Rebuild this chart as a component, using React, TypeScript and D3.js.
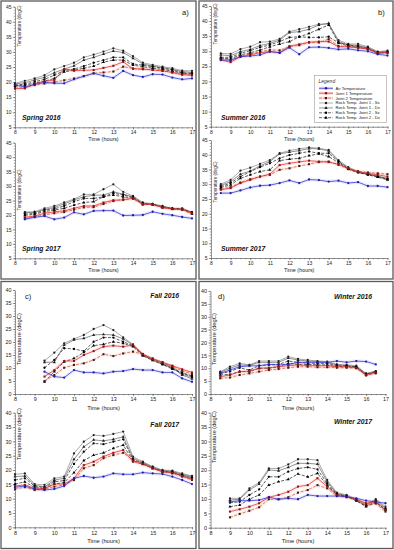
import React, { useEffect, useRef } from "react";
import * as d3 from "d3";

// hours of measurement for each campaign
const hours8to17 = [8, 8.5, 9, 9.5, 10, 10.5, 11, 11.5, 12, 12.5, 13, 13.5, 14, 14.5, 15, 15.5, 16, 16.5, 17];
const hours85to17 = [8.5, 9, 9.5, 10, 10.5, 11, 11.5, 12, 12.5, 13, 13.5, 14, 14.5, 15, 15.5, 16, 16.5, 17];
const hours95to17 = [9.5, 10, 10.5, 11, 11.5, 12, 12.5, 13, 13.5, 14, 14.5, 15, 15.5, 16, 16.5, 17];
const hours85to165 = [8.5, 9, 9.5, 10, 10.5, 11, 11.5, 12, 12.5, 13, 13.5, 14, 14.5, 15, 15.5, 16, 16.5];
const hours9to17 = [9, 9.5, 10, 10.5, 11, 11.5, 12, 12.5, 13, 13.5, 14, 14.5, 15, 15.5, 16, 16.5, 17];

const xTicks = [8, 9, 10, 11, 12, 13, 14, 15, 16, 17];
const yTicksTop = [5, 10, 15, 20, 25, 30, 35, 40, 45];
const yTicksBottom = [0, 5, 10, 15, 20, 25, 30, 35, 40];

const seriesNames = [
  "Air Temperature",
  "Joint 1 Temperature",
  "Joint 2 Temperature",
  "Rock Temp. Joint 1 - Sx",
  "Rock Temp. Joint 1 - Dx",
  "Rock Temp. Joint 2 - Sx",
  "Rock Temp. Joint 2 - Dx",
];

// Spring 2016
const sp16Air = [19.0, 18.4, 19.2, 19.9, 19.6, 19.6, 20.9, 21.9, 22.9, 22.1, 21.4, 23.7, 22.3, 21.7, 22.6, 22.5, 21.5, 20.9, 21.2];
const sp16J1 = [17.8, 17.9, 19.5, 20.2, 20.7, 24.3, 23.8, 23.9, 24.0, 24.7, 25.4, 26.7, 24.4, 24.3, 24.0, 23.7, 23.2, 22.4, 22.3];
const sp16J2 = [18.0, 18.2, 19.0, 19.5, 20.0, 20.6, 21.2, 22.0, 22.9, 23.2, 23.5, 25.1, 24.5, 24.3, 24.1, 23.8, 23.2, 22.7, 22.2];
const sp16R1Sx = [19.6, 20.4, 21.2, 22.3, 24.2, 25.3, 26.4, 28.2, 29.1, 30.1, 31.2, 30.4, 28.6, 26.4, 25.7, 25.1, 24.6, 23.8, 23.7];
const sp16R1Dx = [19.4, 19.8, 20.7, 21.6, 23.1, 24.3, 25.4, 27.3, 28.2, 29.3, 30.3, 29.8, 27.9, 26.0, 25.3, 24.8, 24.2, 23.5, 23.2];
const sp16R2Sx = [19.0, 19.3, 20.1, 20.9, 22.3, 23.8, 24.3, 25.3, 26.4, 27.3, 28.2, 28.2, 26.0, 25.6, 25.1, 24.6, 24.0, 23.1, 22.9];
const sp16R2Dx = [18.7, 19.0, 19.6, 20.3, 21.2, 23.4, 23.9, 24.6, 25.3, 26.6, 27.3, 27.3, 25.6, 25.1, 24.6, 24.2, 23.6, 23.0, 22.6];

// Spring 2017
const sp17Air = [18.5, 19.2, 19.6, 18.5, 19.1, 20.9, 20.2, 21.4, 21.5, 21.5, 19.8, 19.9, 20.0, 21.1, 20.4, 19.9, 19.3, 18.8];
const sp17J1 = [19.2, 19.6, 20.6, 21.1, 21.4, 22.3, 23.1, 23.1, 24.3, 25.1, 25.2, 25.8, 23.8, 23.7, 22.6, 22.1, 22.0, 20.6];
const sp17J2 = [18.8, 19.3, 20.0, 20.6, 21.0, 21.8, 22.6, 22.7, 23.8, 24.8, 25.4, 25.6, 23.6, 23.6, 22.5, 22.0, 21.8, 20.4];
const sp17R1Sx = [21.0, 21.1, 22.3, 23.1, 24.3, 25.5, 27.1, 27.1, 28.9, 30.6, 28.0, 26.6, 24.3, 23.8, 23.1, 22.3, 22.3, 21.0];
const sp17R1Dx = [20.8, 20.9, 21.9, 22.6, 23.8, 25.2, 26.3, 26.8, 26.9, 28.0, 27.2, 26.3, 24.0, 23.7, 22.9, 22.2, 22.1, 20.8];
const sp17R2Sx = [20.3, 20.5, 21.7, 22.1, 23.1, 24.6, 25.7, 25.7, 26.3, 27.5, 26.9, 26.1, 23.9, 23.7, 22.8, 22.2, 22.0, 20.9];
const sp17R2Dx = [19.9, 20.2, 21.2, 21.7, 22.3, 23.4, 24.3, 24.6, 26.3, 26.9, 26.3, 25.8, 23.7, 23.6, 22.6, 22.1, 21.9, 20.4];

// Summer 2016
const su16Air = [27.1, 27.1, 28.2, 28.4, 28.8, 29.9, 29.5, 31.2, 29.0, 31.3, 31.4, 31.1, 30.6, 30.8, 30.3, 30.0, 29.0, 28.6];
const su16J1 = [27.1, 26.4, 28.2, 28.8, 29.5, 29.9, 29.5, 31.7, 32.3, 33.0, 33.2, 33.2, 31.5, 31.5, 31.2, 30.7, 29.3, 29.6];
const su16J2 = [27.5, 26.8, 28.4, 29.1, 29.8, 30.5, 30.3, 31.5, 32.0, 32.9, 32.9, 34.0, 31.8, 31.5, 31.2, 30.9, 29.5, 29.5];
const su16R1Sx = [29.3, 29.1, 30.7, 31.5, 33.0, 33.2, 34.1, 36.5, 37.3, 38.1, 39.0, 39.0, 33.7, 32.4, 32.4, 31.5, 29.9, 30.2];
const su16R1Dx = [28.8, 28.5, 29.9, 30.6, 31.9, 32.6, 33.7, 36.2, 36.5, 37.3, 38.7, 39.3, 33.2, 32.1, 31.9, 31.2, 29.6, 29.9];
const su16R2Sx = [28.0, 28.0, 29.3, 30.2, 31.3, 32.1, 33.2, 34.6, 34.8, 34.6, 34.6, 34.8, 32.8, 32.1, 31.6, 31.0, 29.6, 29.8];
const su16R2Dx = [27.7, 27.5, 28.8, 29.5, 30.4, 31.5, 32.4, 33.2, 34.8, 35.9, 37.3, 38.7, 32.8, 31.7, 31.3, 30.8, 29.4, 29.6];

// Summer 2017
const su17Air = [27.0, 27.0, 27.9, 28.9, 29.5, 29.7, 30.4, 31.3, 30.4, 31.6, 31.4, 30.9, 31.2, 30.4, 30.7, 29.4, 29.4, 29.0];
const su17J1 = [28.1, 28.7, 30.4, 31.5, 32.6, 33.4, 36.5, 37.1, 37.6, 38.0, 37.7, 37.5, 36.8, 35.4, 34.3, 33.7, 33.2, 32.6];
const su17J2 = [28.4, 29.0, 30.6, 31.7, 32.6, 33.2, 34.9, 35.4, 36.2, 36.8, 37.5, 37.7, 36.6, 35.1, 34.3, 34.0, 33.7, 33.4];
const su17R1Sx = [30.0, 31.5, 34.6, 35.6, 36.9, 38.2, 40.5, 41.4, 42.0, 42.5, 42.2, 41.6, 38.2, 35.8, 34.3, 33.7, 32.8, 32.0];
const su17R1Dx = [29.6, 30.9, 33.4, 34.5, 36.2, 37.7, 40.3, 40.9, 41.4, 42.1, 42.0, 41.3, 37.9, 35.4, 34.1, 33.4, 32.6, 31.7];
const su17R2Sx = [29.2, 30.4, 32.6, 34.3, 35.8, 37.1, 38.8, 39.9, 40.5, 41.1, 40.5, 40.5, 37.7, 35.2, 34.0, 33.4, 32.6, 31.8];
const su17R2Dx = [28.9, 29.8, 32.0, 33.2, 34.3, 34.9, 38.0, 38.5, 38.8, 39.7, 40.3, 39.4, 37.3, 35.1, 34.0, 33.2, 32.4, 31.5];

// Fall 2016
const fa16Air = [8.6, 6.7, 6.3, 9.2, 8.3, 8.3, 7.9, 8.6, 8.8, 9.6, 9.2, 9.2, 8.3, 8.3, 6.0, 4.7];
const fa16J1 = [6.7, 9.2, 12.7, 12.7, 15.0, 16.5, 18.2, 18.6, 18.2, 18.8, 15.3, 13.5, 12.2, 10.9, 9.5, 8.3];
const fa16J2 = [5.0, 7.3, 10.1, 11.2, 11.8, 13.1, 15.3, 14.6, 15.6, 16.3, 15.2, 13.2, 11.9, 10.6, 8.9, 7.7];
const fa16R1Sx = [12.8, 15.9, 19.5, 21.2, 22.7, 25.0, 26.5, 24.6, 21.8, 19.1, 15.4, 13.7, 12.2, 10.5, 7.6, 6.4];
const fa16R1Dx = [12.2, 12.2, 18.8, 20.8, 21.4, 22.7, 22.9, 22.7, 21.2, 18.8, 15.0, 13.3, 11.8, 10.1, 7.3, 5.8];
const fa16R2Sx = [10.1, 13.1, 17.6, 17.3, 16.5, 20.1, 21.7, 21.7, 20.1, 18.6, 15.0, 13.1, 11.4, 9.9, 8.2, 7.0];
const fa16R2Dx = [4.7, 8.6, 12.4, 13.7, 16.0, 18.6, 19.1, 20.1, 19.5, 18.2, 14.7, 12.9, 11.4, 9.6, 7.9, 6.7];

// Fall 2017
const fa17Air = [14.0, 14.4, 13.3, 13.0, 13.4, 14.4, 17.1, 17.9, 17.3, 17.7, 18.8, 18.5, 18.5, 19.1, 18.8, 18.6, 17.7, 16.5, 15.1];
const fa17J1 = [14.4, 14.8, 13.6, 13.6, 15.1, 15.1, 17.1, 21.7, 22.9, 24.7, 26.0, 27.0, 22.9, 22.0, 20.6, 19.4, 19.1, 17.9, 16.7];
const fa17J2 = [13.3, 14.0, 13.0, 13.3, 14.2, 14.8, 16.5, 20.6, 21.7, 24.1, 25.2, 26.0, 23.5, 22.3, 20.6, 19.4, 18.8, 17.7, 16.5];
const fa17R1Sx = [18.5, 18.8, 15.1, 14.8, 17.1, 17.7, 25.8, 29.9, 32.2, 31.9, 32.6, 33.4, 24.7, 22.9, 21.2, 20.0, 19.8, 18.8, 17.9];
const fa17R1Dx = [17.7, 17.9, 14.7, 14.1, 16.5, 17.1, 23.7, 28.1, 30.5, 30.2, 30.7, 31.6, 24.1, 22.6, 21.0, 19.8, 19.5, 18.5, 17.7];
const fa17R2Sx = [16.5, 17.1, 14.4, 13.9, 15.9, 16.3, 22.1, 26.4, 29.3, 29.0, 29.9, 30.7, 23.7, 22.3, 20.8, 19.6, 19.3, 18.2, 17.3];
const fa17R2Dx = [15.1, 15.9, 13.9, 13.5, 15.1, 15.6, 19.1, 23.3, 25.2, 26.0, 27.6, 28.7, 23.3, 22.1, 20.6, 19.4, 19.1, 18.0, 17.1];

// Winter 2016
const wi16Air = [8.0, 9.3, 10.6, 10.9, 11.0, 11.5, 11.3, 11.5, 12.3, 12.3, 12.3, 12.3, 12.8, 12.3, 12.8, 12.6, 11.5];
const wi16J1 = [6.7, 7.4, 8.7, 8.9, 10.0, 10.2, 10.6, 11.0, 11.3, 11.0, 11.0, 11.0, 10.6, 10.6, 10.2, 7.4, 8.4];
const wi16J2 = [6.1, 6.4, 7.4, 8.0, 8.7, 9.3, 9.7, 10.2, 10.6, 10.6, 10.4, 10.4, 10.2, 10.2, 10.0, 7.2, 8.0];
const wi16R1Sx = [8.7, 10.6, 11.9, 11.3, 12.8, 12.8, 12.8, 14.5, 13.6, 13.2, 12.8, 12.6, 11.5, 11.3, 11.0, 8.0, 8.9];
const wi16R1Dx = [8.4, 10.0, 11.3, 11.1, 12.3, 12.3, 12.3, 13.9, 13.2, 12.8, 12.6, 12.3, 11.3, 11.1, 10.6, 7.8, 8.7];
const wi16R2Sx = [8.0, 8.7, 10.2, 9.3, 11.0, 11.3, 11.5, 12.8, 12.3, 12.0, 11.9, 11.9, 11.0, 10.9, 10.5, 7.6, 8.7];
const wi16R2Dx = [7.4, 7.6, 8.7, 8.7, 10.0, 10.0, 10.6, 11.9, 11.5, 11.5, 11.3, 11.3, 10.6, 10.6, 10.2, 7.4, 8.4];

// Winter 2017
const wi17Air = [9.0, 9.4, 9.4, 9.6, 10.6, 9.9, 10.2, 9.9, 11.4, 11.0, 11.0, 11.0, 10.8, 10.2, 9.4, 9.0, 8.5];
const wi17J1 = [5.6, 6.4, 7.3, 8.5, 10.6, 11.4, 12.5, 14.3, 14.8, 17.2, 14.3, 11.4, 10.8, 9.9, 8.5, 9.0, 6.1];
const wi17J2 = [3.6, 4.8, 5.9, 7.1, 9.9, 9.9, 10.6, 12.2, 13.1, 14.8, 13.7, 11.0, 10.6, 9.6, 7.8, 8.4, 5.6];
const wi17R1Sx = [10.2, 10.2, 13.7, 15.7, 20.6, 20.6, 22.0, 23.8, 23.8, 23.5, 16.6, 12.2, 11.4, 9.9, 8.2, 9.9, 7.3];
const wi17R1Dx = [9.6, 9.9, 13.1, 15.2, 20.1, 19.8, 21.0, 22.4, 22.4, 22.1, 16.0, 11.9, 11.0, 9.6, 7.9, 9.6, 6.8];
const wi17R2Sx = [8.7, 9.0, 11.4, 13.3, 17.7, 17.7, 19.5, 20.6, 21.0, 20.3, 15.4, 11.7, 11.0, 9.4, 7.5, 9.0, 6.4];
const wi17R2Dx = [7.3, 7.9, 9.9, 11.4, 14.8, 16.0, 16.8, 18.7, 17.7, 18.9, 14.8, 11.5, 10.8, 9.4, 7.3, 8.8, 6.1];

// line look for each series (same order as seriesNames)
const seriesStyle = [
  { stroke: "#2d2dcf", halo: "#c4c4f2", dash: null, marker: d3.symbolCircle, mfill: "#1c1cb0" },
  { stroke: "#e42a2a", halo: "#f7c4c4", dash: null, marker: d3.symbolSquare, mfill: "#8a1515" },
  { stroke: "#d2553f", halo: "#f7d2c8", dash: "3,1.5", marker: d3.symbolSquare, mfill: "#3a1a10" },
  { stroke: "#8c8c8c", halo: null, dash: null, marker: d3.symbolCircle, mfill: "#222" },
  { stroke: "#6c6c6c", halo: null, dash: null, marker: d3.symbolTriangle, mfill: "#222" },
  { stroke: "#2a2a2a", halo: null, dash: "3,1.5", marker: d3.symbolCircle, mfill: "#000" },
  { stroke: "#2a2a2a", halo: null, dash: "3,1.5", marker: d3.symbolTriangle, mfill: "#000" },
];
const drawOrder = [3, 4, 5, 6, 2, 1, 0];

const panels = [
  { title: "Spring 2016", hours: hours8to17, data: [sp16Air, sp16J1, sp16J2, sp16R1Sx, sp16R1Dx, sp16R2Sx, sp16R2Dx],
    x0: 15, x1: 192, yt: 6.7, yb: 127.3, dom: [5, 45], ticks: yTicksTop, fs: 5, yl: 26, ylfs: 4.6,
    tx: 22, ty: 120, anchor: "start", letter: "a)", lx: 182, ly: 15 },
  { title: "Spring 2017", hours: hours85to17, data: [sp17Air, sp17J1, sp17J2, sp17R1Sx, sp17R1Dx, sp17R2Sx, sp17R2Dx],
    x0: 15, x1: 192, yt: 142.7, yb: 258.3, dom: [5, 45], ticks: yTicksTop, fs: 5, yl: 190, ylfs: 4.6,
    tx: 22, ty: 250.5, anchor: "start" },
  { title: "Summer 2016", hours: hours85to17, data: [su16Air, su16J1, su16J2, su16R1Sx, su16R1Dx, su16R2Sx, su16R2Dx],
    x0: 211, x1: 387.5, yt: 6, yb: 126.7, dom: [5, 45], ticks: yTicksTop, fs: 5, yl: 24, ylfs: 4.6,
    tx: 221, ty: 120, anchor: "start", letter: "b)", lx: 378, ly: 15, legend: true },
  { title: "Summer 2017", hours: hours85to17, data: [su17Air, su17J1, su17J2, su17R1Sx, su17R1Dx, su17R2Sx, su17R2Dx],
    x0: 211, x1: 387.5, yt: 140, yb: 258, dom: [5, 45], ticks: yTicksTop, fs: 5, yl: 182, ylfs: 4.6,
    tx: 221, ty: 250.5, anchor: "start" },
  { title: "Fall 2016", hours: hours95to17, data: [fa16Air, fa16J1, fa16J2, fa16R1Sx, fa16R1Dx, fa16R2Sx, fa16R2Dx],
    x0: 15, x1: 192, yt: 290, yb: 394, dom: [0, 40], ticks: yTicksBottom, fs: 5.4, yl: 339, ylfs: 5.8,
    tx: 179, ty: 297.5, anchor: "end", letter: "c)", lx: 25, ly: 298.5 },
  { title: "Fall 2017", hours: hours8to17, data: [fa17Air, fa17J1, fa17J2, fa17R1Sx, fa17R1Dx, fa17R2Sx, fa17R2Dx],
    x0: 15, x1: 192, yt: 412.7, yb: 527.3, dom: [0, 40], ticks: yTicksBottom, fs: 5.4, yl: 434, ylfs: 5.8,
    tx: 179, ty: 426.5, anchor: "end" },
  { title: "Winter 2016", hours: hours85to165, data: [wi16Air, wi16J1, wi16J2, wi16R1Sx, wi16R1Dx, wi16R2Sx, wi16R2Dx],
    x0: 210.5, x1: 385.5, yt: 291, yb: 394, dom: [0, 40], ticks: yTicksBottom, fs: 5.4, yl: 339, ylfs: 5.8,
    tx: 372, ty: 299, anchor: "end", letter: "d)", lx: 218, ly: 299 },
  { title: "Winter 2017", hours: hours9to17, data: [wi17Air, wi17J1, wi17J2, wi17R1Sx, wi17R1Dx, wi17R2Sx, wi17R2Dx],
    x0: 210.5, x1: 385.5, yt: 412.7, yb: 527.7, dom: [0, 40], ticks: yTicksBottom, fs: 5.4, yl: 437, ylfs: 5.8,
    tx: 372, ty: 424, anchor: "end" },
];

const boxes = [
  [1, 1, 195, 278],
  [199, 1, 194, 278],
  [1, 281.5, 195, 267],
  [199, 281.5, 194, 267],
];

const FONT = "Arial, 'Liberation Sans', sans-serif";

export default function App() {
  const ref = useRef<SVGSVGElement>(null);

  useEffect(() => {
    const svg = d3.select(ref.current);
    svg.selectAll("*").remove();

    svg.append("rect").attr("width", 394).attr("height", 550).attr("fill", "white");

    // group frames
    svg.append("g").selectAll("rect").data(boxes).join("rect")
      .attr("x", (d) => d[0]).attr("y", (d) => d[1]).attr("width", (d) => d[2]).attr("height", (d) => d[3])
      .attr("fill", "none").attr("stroke", "#5a5a5a").attr("stroke-width", 1.3);

    panels.forEach((p) => {
      const g = svg.append("g").style("font-family", FONT);
      const x = d3.scaleLinear().domain([8, 17]).range([p.x0, p.x1]);
      const y = d3.scaleLinear().domain(p.dom).range([p.yb, p.yt]);

      // minor ticks
      g.append("g").attr("transform", `translate(0,${p.yb})`)
        .call(d3.axisBottom(x).tickValues(d3.range(8, 17.01, 0.25)).tickSize(1.2).tickFormat(() => ""))
        .call((a) => a.select(".domain").remove());
      g.append("g").attr("transform", `translate(${p.x0},0)`)
        .call(d3.axisLeft(y).tickValues(d3.range(p.dom[0], p.dom[1] + 0.01, 1)).tickSize(1.2).tickFormat(() => ""))
        .call((a) => a.select(".domain").remove());

      const xa = g.append("g").attr("transform", `translate(0,${p.yb})`)
        .call(d3.axisBottom(x).tickValues(xTicks).tickSize(2.2).tickPadding(1.3).tickSizeOuter(0));
      const ya = g.append("g").attr("transform", `translate(${p.x0},0)`)
        .call(d3.axisLeft(y).tickValues(p.ticks).tickSize(2.2).tickPadding(1.2).tickSizeOuter(0));
      [xa, ya].forEach((a) => {
        a.selectAll("text").attr("font-size", p.fs).attr("font-family", FONT).attr("fill", "#222");
        a.select(".domain").attr("stroke", "#444").attr("stroke-width", 0.6);
      });
      g.selectAll("g.tick line").attr("stroke", "#444").attr("stroke-width", 0.5);

      g.append("text").attr("x", (p.x0 + p.x1) / 2).attr("y", p.yb + (p.dom[0] === 0 ? 15.5 : 14))
        .attr("text-anchor", "middle").attr("font-size", p.fs + 0.4).attr("fill", "#222").text("Time (hours)");
      g.append("text").attr("transform", `translate(${p.x0 + 5.8},${p.yl}) rotate(-90)`)
        .attr("text-anchor", "middle").attr("font-size", p.ylfs).attr("fill", "#222").text("Temperature (degC)");

      const line = d3.line<[number, number]>().x((d) => x(d[0])).y((d) => y(d[1]));

      // soft halos behind the joint and air lines
      drawOrder.forEach((i) => {
        const s = seriesStyle[i];
        if (!s.halo) return;
        const pts = p.hours.map((h, k) => [h, p.data[i][k]] as [number, number]);
        g.append("path").attr("d", line(pts)).attr("fill", "none")
          .attr("stroke", s.halo).attr("stroke-width", 3.5).attr("stroke-opacity", 0.3)
          .attr("stroke-linejoin", "round");
      });

      drawOrder.forEach((i) => {
        const s = seriesStyle[i];
        const pts = p.hours.map((h, k) => [h, p.data[i][k]] as [number, number]);
        g.append("path").attr("d", line(pts)).attr("fill", "none")
          .attr("stroke", s.stroke).attr("stroke-width", 0.75)
          .attr("stroke-dasharray", s.dash);
        g.append("g").selectAll("path").data(pts).join("path")
          .attr("transform", (d) => `translate(${x(d[0])},${y(d[1])})`)
          .attr("d", d3.symbol().type(s.marker).size(4.2)())
          .attr("fill", s.mfill);
      });

      g.append("text").attr("x", p.tx).attr("y", p.ty).attr("text-anchor", p.anchor)
        .attr("font-size", 6.8).attr("font-weight", "bold").attr("font-style", "italic")
        .attr("fill", "#111").text(p.title);

      if (p.letter) {
        g.append("text").attr("x", p.lx).attr("y", p.ly).attr("font-size", 7.5)
          .attr("fill", "#111").text(p.letter);
      }

      if (p.legend) {
        const lg = g.append("g");
        lg.append("rect").attr("x", 314.5).attr("y", 75.5).attr("width", 72).attr("height", 47)
          .attr("fill", "white").attr("stroke", "#888").attr("stroke-width", 0.5);
        lg.append("text").attr("x", 318.5).attr("y", 82.5).attr("font-size", 5)
          .attr("font-style", "italic").attr("fill", "#333").text("Legend");
        seriesNames.forEach((name, i) => {
          const s = seriesStyle[i];
          const ly = 88.3 + i * 4.9;
          if (s.halo) {
            lg.append("line").attr("x1", 319).attr("x2", 333).attr("y1", ly).attr("y2", ly)
              .attr("stroke", s.halo).attr("stroke-width", 3).attr("stroke-opacity", 0.6);
          }
          lg.append("line").attr("x1", 319).attr("x2", 333).attr("y1", ly).attr("y2", ly)
            .attr("stroke", s.stroke).attr("stroke-width", 0.7).attr("stroke-dasharray", s.dash);
          lg.append("path").attr("transform", `translate(326,${ly})`)
            .attr("d", d3.symbol().type(s.marker).size(5)()).attr("fill", s.mfill);
          lg.append("text").attr("x", 335.5).attr("y", ly + 1.4).attr("font-size", 4.2)
            .attr("fill", "#222").text(name);
        });
      }
    });
  }, []);

  return (
    <svg ref={ref} width={394} height={550}
      style={{ position: "absolute", left: 0, top: 0, fontFamily: FONT }} />
  );
}
